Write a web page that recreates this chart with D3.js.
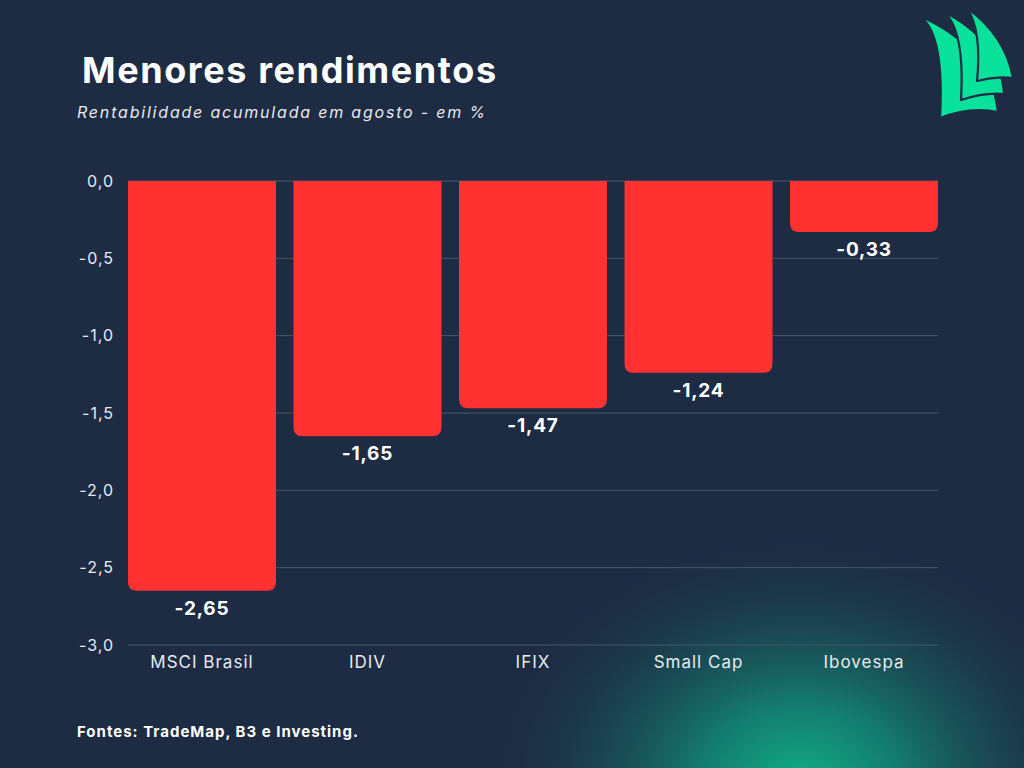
<!DOCTYPE html>
<html lang="pt-BR">
<head>
<meta charset="UTF-8">
<title>Menores rendimentos</title>
<style>
    html, body { margin: 0; padding: 0; background: #1d2b43; }
    svg { display: block; font-family: Inter, "Open Sans", sans-serif; }
</style>
</head>
<body>
<svg id="chart"></svg>
<script src="https://cdn.jsdelivr.net/npm/d3@7"></script>
<script>
    const categories = ["MSCI Brasil", "IDIV", "IFIX", "Small Cap", "Ibovespa"];
    const values = [-2.65, -1.65, -1.47, -1.24, -0.33];
    const yTicks = [0, -0.5, -1, -1.5, -2, -2.5, -3];

    const width = 1024;
    const height = 768;
    const fmt = v => d3.format(".1f")(v).replace(".", ",").replace("−", "-");
    const fmt2 = v => d3.format(".2f")(v).replace(".", ",").replace("−", "-");

    const svg = d3.select("#chart")
        .attr("width", width)
        .attr("height", height);

    // background + green glow bottom right
    const defs = svg.append("defs");
    const glow = defs.append("radialGradient")
        .attr("id", "glow")
        .attr("gradientUnits", "userSpaceOnUse")
        .attr("cx", 800).attr("cy", 785).attr("r", 330)
        .attr("gradientTransform", "translate(800,785) scale(1,0.8) translate(-800,-785)");
    glow.append("stop").attr("offset", "0%").attr("stop-color", "#10b084").attr("stop-opacity", 1);
    glow.append("stop").attr("offset", "30%").attr("stop-color", "#11927a").attr("stop-opacity", 0.8);
    glow.append("stop").attr("offset", "100%").attr("stop-color", "#1d2b43").attr("stop-opacity", 0);

    svg.append("rect").attr("width", width).attr("height", height).attr("fill", "#1d2b43");
    svg.append("rect").attr("width", width).attr("height", height).attr("fill", "url(#glow)");

    // titles
    svg.append("text")
        .attr("x", 82).attr("y", 83)
        .attr("fill", "#ffffff")
        .attr("font-size", 36)
        .attr("font-weight", 700)
        .attr("letter-spacing", 1.6)
        .text("Menores rendimentos");

    svg.append("text")
        .attr("x", 77).attr("y", 118)
        .attr("fill", "#e8eaee")
        .attr("font-size", 16)
        .attr("font-style", "italic")
        .attr("letter-spacing", 1.8)
        .text("Rentabilidade acumulada em agosto - em %");

    // scales
    const x = d3.scaleBand()
        .domain(categories)
        .range([128, 938])
        .paddingInner(0.106)
        .paddingOuter(0);

    const y = d3.scaleLinear()
        .domain([0, -3])
        .range([181, 645]);

    // grid
    svg.append("g")
        .selectAll("line")
        .data(yTicks)
        .join("line")
        .attr("x1", 128).attr("x2", 938)
        .attr("y1", d => y(d)).attr("y2", d => y(d))
        .attr("stroke", "#4a5669")
        .attr("stroke-width", 1);

    // y labels
    svg.append("g")
        .selectAll("text")
        .data(yTicks)
        .join("text")
        .attr("x", 114)
        .attr("y", d => y(d))
        .attr("dy", "0.35em")
        .attr("text-anchor", "end")
        .attr("fill", "#e8eaee")
        .attr("font-size", 16)
        .attr("letter-spacing", 1)
        .text(d => fmt(d));

    // bars with rounded bottom corners
    const r = 9;
    const barPath = (d, i) => {
        const x0 = x(categories[i]);
        const x1 = x0 + x.bandwidth();
        const y0 = y(0);
        const y1 = y(d);
        return `M${x0},${y0} H${x1} V${y1 - r} Q${x1},${y1} ${x1 - r},${y1} H${x0 + r} Q${x0},${y1} ${x0},${y1 - r} Z`;
    };

    svg.append("g")
        .selectAll("path")
        .data(values)
        .join("path")
        .attr("d", barPath)
        .attr("fill", "#ff3131");

    // value labels
    svg.append("g")
        .selectAll("text")
        .data(values)
        .join("text")
        .attr("x", (d, i) => x(categories[i]) + x.bandwidth() / 2)
        .attr("y", d => y(d) + 24)
        .attr("text-anchor", "middle")
        .attr("fill", "#ffffff")
        .attr("font-size", 19)
        .attr("font-weight", 700)
        .attr("letter-spacing", 0.8)
        .text(d => fmt2(d));

    // category labels
    svg.append("g")
        .selectAll("text")
        .data(categories)
        .join("text")
        .attr("x", d => x(d) + x.bandwidth() / 2)
        .attr("y", 668)
        .attr("text-anchor", "middle")
        .attr("fill", "#e8eaee")
        .attr("font-size", 17)
        .attr("letter-spacing", 1)
        .text(d => d);

    // footer
    svg.append("text")
        .attr("x", 77).attr("y", 737)
        .attr("fill", "#ffffff")
        .attr("font-size", 15)
        .attr("font-weight", 700)
        .attr("letter-spacing", 1)
        .text("Fontes: TradeMap, B3 e Investing.");

    // logo: three sails, back to front
    const logo = svg.append("g")
        .attr("fill", "#08e29b")
        .attr("stroke", "#1d2b43")
        .attr("stroke-width", 2.2)
        .attr("stroke-linejoin", "round");

    logo.append("path")
        .attr("d", "M917,15 Q945,28 940,118 Q970,106 998,112 Q990,45 917,15 Z");
    logo.append("path")
        .attr("d", "M944,12 Q965,30 961,100 Q985,92 1004,94 Q1000,40 944,12 Z");
    logo.append("path")
        .attr("d", "M967,8 Q982,30 977,81 Q995,76 1013,78 Q1005,35 967,8 Z");
</script>
</body>
</html>
